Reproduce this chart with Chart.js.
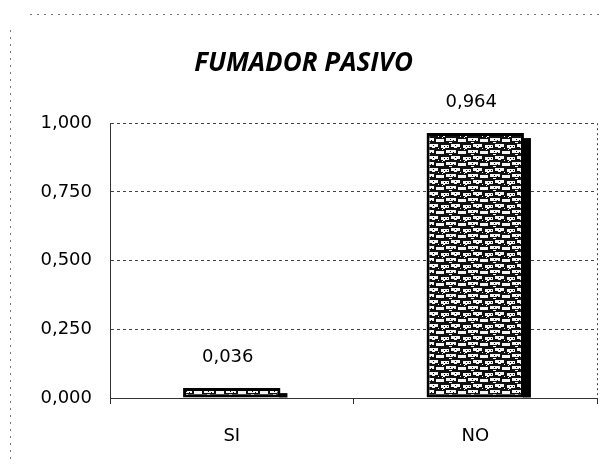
<!DOCTYPE html>
<html>
<head>
<meta charset="utf-8">
<script src="https://cdn.jsdelivr.net/npm/chart.js@4"></script>
<style>
  html, body { margin: 0; padding: 0; background: #fff; }
  #wrap { width: 606px; height: 464px; }
</style>
</head>
<body>
<div id="wrap"><canvas id="grafico"></canvas></div>
<script>
// datos del grafico
var categorias = ["SI", "NO"]
var valores = [0.036, 0.964]
var titulo = "FUMADOR PASIVO"
var ejeMin = 0
var ejeMax = 1
var paso = 0.25

function formato(v){ // 3 decimales con coma
    return v.toFixed(3).replace(".", ",")
}

// trama del relleno de las barras (ladrillos blancos sobre negro)
function trama(){
    var c = document.createElement("canvas")
    c.width = 22
    c.height = 12
    var g = c.getContext("2d")
    g.fillStyle = "#111"
    g.fillRect(0, 0, 22, 12)
    g.fillStyle = "#f4f4f4"
    var piezas = [
        [1,1,8,3],[11,0,9,3],[3,4,2,1],[14,3,3,1],
        [0,7,4,3],[6,6,10,3],[18,7,4,3],[9,10,3,1],[2,5,1,1],[20,4,1,1]
    ]
    piezas.forEach(function(p){ g.fillRect(p[0], p[1], p[2], p[3]) })
    g.fillStyle = "#111"
    var huecos = [[4,2,1,1],[15,1,1,1],[10,7,1,1],[13,8,1,1],[7,2,1,1]]
    huecos.forEach(function(p){ g.fillRect(p[0], p[1], p[2], p[3]) })
    return g.createPattern(c, "repeat")
}

const sombra = {
    id: "sombraBarras",
    beforeDatasetsDraw(chart){
        // franja negra de sombra a la derecha de cada barra
        const ctx = chart.ctx
        ctx.save()
        ctx.fillStyle = "#000"
        chart.getDatasetMeta(0).data.forEach(function(bar){
            var der = bar.x + bar.width / 2
            var alto = bar.base - bar.y
            ctx.fillRect(der - 1, bar.y + 5, 8, Math.max(alto - 5, 0))
        })
        ctx.restore()
    },
    afterDatasetsDraw(chart){
        // etiquetas de valor
        const ctx = chart.ctx
        ctx.save()
        ctx.fillStyle = "#000"
        ctx.font = "18px 'DejaVu Sans'"
        ctx.textAlign = "center"
        ctx.textBaseline = "middle"
        chart.getDatasetMeta(0).data.forEach(function(bar, i){
            ctx.fillText(formato(valores[i]), bar.x - 4, bar.y - 31)
        })
        ctx.restore()
    }
}

const marco = {
    id: "marco",
    afterDraw(chart){
        const ctx = chart.ctx
        const a = chart.chartArea
        ctx.save()
        // borde derecho del area de trazado
        ctx.strokeStyle = "#444"
        ctx.lineWidth = 1
        ctx.setLineDash([2, 3])
        ctx.beginPath()
        ctx.moveTo(a.right + 0.5, a.top)
        ctx.lineTo(a.right + 0.5, a.bottom)
        ctx.stroke()
        // borde exterior punteado
        ctx.strokeStyle = "#777"
        ctx.setLineDash([2, 5])
        ctx.beginPath()
        ctx.moveTo(30, 14.5)
        ctx.lineTo(604, 14.5)
        ctx.moveTo(10.5, 30)
        ctx.lineTo(10.5, 464)
        ctx.stroke()
        ctx.restore()
    }
}

var chart = new Chart(document.getElementById("grafico"), {
    type: "bar",
    data: {
        labels: categorias,
        datasets: [{
            data: valores,
            backgroundColor: trama(),
            borderColor: "#000",
            borderWidth: 3,
            borderSkipped: false,
            categoryPercentage: 0.86,
            barPercentage: 0.465
        }]
    },
    options: {
        responsive: true,
        maintainAspectRatio: false,
        animation: false,
        layout: { padding: { left: 10, right: 9, top: 0, bottom: 20 } },
        plugins: {
            legend: { display: false },
            tooltip: { enabled: false },
            title: {
                display: true,
                text: titulo,
                color: "#000",
                font: { family: "'Open Sans'", size: 26, weight: "bold", style: "italic" },
                padding: { top: 48, bottom: 44 }
            }
        },
        scales: {
            x: {
                afterFit(scale){ scale.height = 46 },
                grid: { display: true, drawOnChartArea: false, drawTicks: true, tickLength: 6, color: "#333" },
                border: { display: true, color: "#333", dash: [3, 3] },
                ticks: { color: "#000", padding: 22, font: { family: "'DejaVu Sans'", size: 18 } }
            },
            y: {
                min: ejeMin,
                max: ejeMax,
                afterFit(scale){ scale.width = 100 },
                grid: { color: "#444", drawTicks: false },
                border: { display: true, color: "#333", dash: [3, 3] },
                ticks: {
                    stepSize: paso,
                    padding: 18,
                    color: "#000",
                    font: { family: "'DejaVu Sans'", size: 18 },
                    callback: function(v){ return formato(v) }
                }
            }
        }
    },
    plugins: [sombra, marco]
})
</script>
</body>
</html>
